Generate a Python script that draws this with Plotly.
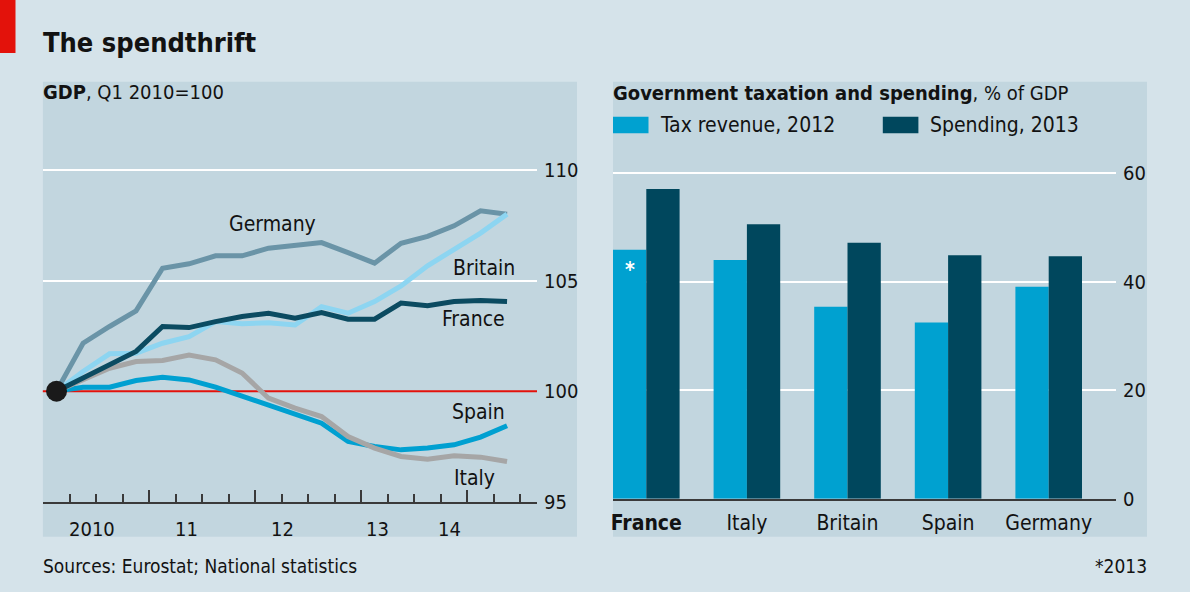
import plotly.graph_objects as go

# ---------------- data ----------------
quarters = ["2010Q1", "2010Q2", "2010Q3", "2010Q4",
            "2011Q1", "2011Q2", "2011Q3", "2011Q4",
            "2012Q1", "2012Q2", "2012Q3", "2012Q4",
            "2013Q1", "2013Q2", "2013Q3", "2013Q4",
            "2014Q1", "2014Q2"]
gdp_germany = [100, 102.17, 102.93, 103.64, 105.57, 105.77, 106.13, 106.13, 106.48,
               106.58, 106.73, 106.28, 105.80, 106.70, 107.01, 107.49, 108.17, 108.02]
gdp_britain = [100, 100.89, 101.69, 101.72, 102.17, 102.47, 103.15, 103.05, 103.10,
               103.00, 103.83, 103.53, 104.06, 104.77, 105.68, 106.40, 107.16, 108.02]
gdp_france = [100, 100.62, 101.21, 101.80, 102.93, 102.88, 103.15, 103.38, 103.53,
              103.31, 103.56, 103.26, 103.26, 103.99, 103.87, 104.06, 104.11, 104.06]
gdp_spain = [100, 100.18, 100.18, 100.48, 100.63, 100.51, 100.18, 99.76, 99.38,
             98.93, 98.55, 97.72, 97.49, 97.34, 97.42, 97.57, 97.92, 98.43]
gdp_italy = [100, 100.50, 101.04, 101.34, 101.39, 101.64, 101.42, 100.82, 99.68,
             99.23, 98.85, 97.94, 97.42, 97.04, 96.92, 97.07, 97.01, 96.81]
gdp_base = 100
gdp_ticks = [95, 100, 105, 110]
gdp_grid = [105, 110]
year_labels = ["2010", "11", "12", "13", "14"]
year_label_pos = [1.33, 4.92, 8.52, 12.10, 14.81]

countries = ["France", "Italy", "Britain", "Spain", "Germany"]
tax_revenue_2012 = [45.9, 44.0, 35.4, 32.5, 39.1]
spending_2013 = [57.1, 50.6, 47.2, 44.9, 44.7]
pct_ticks = [0, 20, 40, 60]

# ---------------- style ----------------
W, H = 1190, 592
FONT = "DejaVu Sans Condensed, DejaVu Sans, sans-serif"
TXT = "#121212"
BG = "#d5e3ea"
PANEL = "#c2d6df"
RED = "#e3120b"
C_GER = "#6a94a7"
C_BRI = "#8dd5f1"
C_FRA = "#0b4b61"
C_SPA = "#00a0d1"
C_ITA = "#a6a6a6"
C_TAX = "#00a1d0"
C_SPD = "#00475d"
AXC = "#3a3a3a"

S_TICK = 20
S_TEXT = 21
S_SUB = 20
S_TITLE = 27
S_SRC = 19


def px(x):
    return x / W


def py(y):
    return 1 - y / H


qx = list(range(len(quarters)))
bounds = [i - 0.5 for i in range(len(quarters) + 1)]
year_bounds = [i - 0.5 for i, q in enumerate(quarters) if q.endswith("Q1")]
minor_bounds = [b for b in bounds if b not in year_bounds]

fig = go.Figure()

series = [("Germany", gdp_germany, C_GER), ("Spain", gdp_spain, C_SPA),
          ("Italy", gdp_italy, C_ITA), ("Britain", gdp_britain, C_BRI),
          ("France", gdp_france, C_FRA)]
for name, vals, col in series:
    fig.add_trace(go.Scatter(x=qx, y=vals, mode="lines", name=name,
                             line=dict(color=col, width=5), xaxis="x", yaxis="y",
                             showlegend=False, hoverinfo="x+y+name"))
fig.add_trace(go.Scatter(x=[qx[0]], y=[gdp_base], mode="markers", xaxis="x", yaxis="y",
                         marker=dict(size=21, color="#1a1a1a"), showlegend=False,
                         hoverinfo="skip"))

fig.add_trace(go.Bar(x=countries, y=tax_revenue_2012, name="Tax revenue, 2012",
                     marker=dict(color=C_TAX, line=dict(width=0)),
                     xaxis="x2", yaxis="y2", showlegend=False))
fig.add_trace(go.Bar(x=countries, y=spending_2013, name="Spending, 2013",
                     marker=dict(color=C_SPD, line=dict(width=0)),
                     xaxis="x2", yaxis="y2", showlegend=False))

# left axes geometry
L_x0, L_x1 = 43.3, 537.0
q_px = 26.5
L_range = [-0.5, -0.5 + (L_x1 - L_x0) / q_px]
L_ytop, L_ybot = 81.7, 501.5
unit_px = 22.07
L_yrange = [95, 95 + (L_ybot - L_ytop) / unit_px]

R_x0, R_x1 = 613.0, 1116.0
cat_px = 100.6
R_range = [-(33.3 / cat_px), -(33.3 / cat_px) + (R_x1 - R_x0) / cat_px]
R_ytop, R_ybot = 81.7, 498.7
R_unit = 5.423
R_yrange = [0, (R_ybot - R_ytop) / R_unit]

tick_font = dict(family=FONT, size=S_TICK, color=TXT)
cat_font = dict(family=FONT, size=S_TEXT, color=TXT)

fig.update_layout(
    width=W, height=H, autosize=False,
    margin=dict(l=0, r=0, t=0, b=0, pad=0, autoexpand=False),
    paper_bgcolor=BG, plot_bgcolor="rgba(0,0,0,0)",
    font=dict(family=FONT, size=S_TEXT, color=TXT),
    showlegend=False,
    barmode="group", bargap=0.338, bargroupgap=0,
    xaxis=dict(domain=[px(L_x0), px(L_x1)], range=L_range, anchor="y", automargin=False,
               showgrid=False, zeroline=False, showline=True, linecolor=AXC,
               linewidth=1.5, tickmode="array", tickvals=year_bounds,
               ticktext=["" for _ in year_bounds], ticks="inside", ticklen=12,
               tickwidth=1.5, tickcolor=AXC,
               minor=dict(tickmode="array", tickvals=minor_bounds, ticks="inside",
                          ticklen=8, tickwidth=1.5, tickcolor=AXC, showgrid=False),
               fixedrange=True),
    yaxis=dict(domain=[py(L_ybot), py(L_ytop)], range=L_yrange, anchor="x",
               automargin=False,
               side="right", tickmode="array", tickvals=gdp_ticks,
               showgrid=False, zeroline=False,
               minor=dict(tickmode="array", tickvals=gdp_grid, ticks="",
                          showgrid=True, gridcolor="#ffffff", gridwidth=2.2),
               showline=False, ticks="", tickfont=tick_font, ticklabelstandoff=6,
               fixedrange=True),
    xaxis2=dict(domain=[px(R_x0), px(R_x1)], range=R_range, anchor="y2",
                automargin=False,
                type="category", categoryorder="array", categoryarray=countries,
                tickmode="array", tickvals=countries,
                ticktext=["<b>%s</b>" % c if i == 0 else c for i, c in enumerate(countries)],
                showgrid=False, zeroline=False, showline=True, linecolor=AXC,
                linewidth=1.5, ticks="", tickfont=cat_font, ticklabelstandoff=4,
                fixedrange=True),
    yaxis2=dict(domain=[py(R_ybot), py(R_ytop)], range=R_yrange, anchor="x2",
                automargin=False,
                side="right", tickmode="array", tickvals=pct_ticks,
                showgrid=True, gridcolor="#ffffff", gridwidth=2.2, zeroline=False,
                showline=False, ticks="", tickfont=tick_font, ticklabelstandoff=6,
                fixedrange=True),
)

shapes = [
    dict(type="rect", xref="paper", yref="paper", x0=0, x1=px(15.5), y0=py(53), y1=1,
         fillcolor=RED, line=dict(width=0), layer="below"),
    dict(type="rect", xref="paper", yref="paper", x0=px(42.9), x1=px(577), y0=py(536.7),
         y1=py(81.7), fillcolor=PANEL, line=dict(width=0), layer="below"),
    dict(type="rect", xref="paper", yref="paper", x0=px(613), x1=px(1147), y0=py(536.7),
         y1=py(81.7), fillcolor=PANEL, line=dict(width=0), layer="below"),
    dict(type="line", xref="paper", yref="y", x0=px(L_x0) - 0.0004, x1=px(L_x1),
         y0=gdp_base, y1=gdp_base, line=dict(color=RED, width=2), layer="below"),
    # legend keys
    dict(type="rect", xref="paper", yref="paper", x0=px(613), x1=px(648.5), y0=py(133.3),
         y1=py(116.7), fillcolor=C_TAX, line=dict(width=0), layer="above"),
    dict(type="rect", xref="paper", yref="paper", x0=px(882.8), x1=px(918.4), y0=py(133.3),
         y1=py(116.7), fillcolor=C_SPD, line=dict(width=0), layer="above"),
]
fig.update_layout(shapes=shapes)


def ann(text, x, y, size=S_TEXT, xanchor="left", color=TXT, **kw):
    return dict(text=text, x=px(x), y=py(y), xref="paper", yref="paper",
                xanchor=xanchor, yanchor="middle", showarrow=False,
                font=dict(family=FONT, size=size, color=color), **kw)


annotations = [
    ann("<b>The spendthrift</b>", 41, 43, size=S_TITLE),
    ann("<b>GDP</b>, Q1 2010=100", 41, 92, size=S_SUB),
    ann("<b>Government taxation and spending</b>, % of GDP", 611, 93, size=S_SUB),
    ann("Tax revenue, 2012", 658, 125),
    ann("Spending, 2013", 928, 125),
    ann("Germany", 272.6, 224, xanchor="center"),
    ann("Britain", 483.5, 268, xanchor="center"),
    ann("France", 473.6, 318.5, xanchor="center"),
    ann("Spain", 478, 412, xanchor="center"),
    ann("Italy", 474.6, 478.5, xanchor="center"),
    ann("<b>*</b>", 629.5, 270, xanchor="center", color="#ffffff"),
    ann("Sources: Eurostat; National statistics", 41, 566, size=S_SRC),
    ann("*2013", 1149, 566, size=S_SRC, xanchor="right"),
]
# year labels placed through the left x scale
for lab, pos in zip(year_labels, year_label_pos):
    annotations.append(dict(text=lab, x=pos, y=py(528.5), xref="x", yref="paper",
                            xanchor="center", yanchor="middle", showarrow=False,
                            font=tick_font))
fig.update_layout(annotations=annotations)

fig.write_html("out.html", config={"displayModeBar": False, "responsive": False},
               post_script="document.body.style.margin='0px';")
